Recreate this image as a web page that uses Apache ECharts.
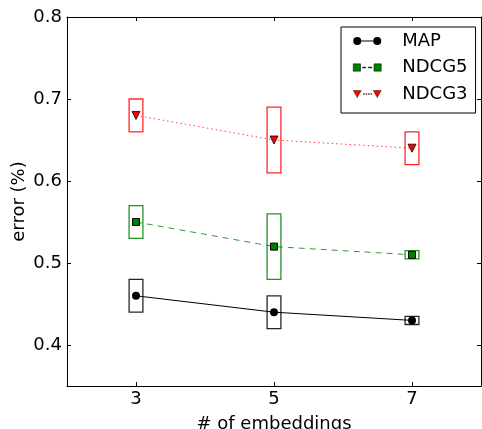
<!DOCTYPE html>
<html><head><meta charset="utf-8">
<script src="https://cdn.jsdelivr.net/npm/echarts@6/dist/echarts.min.js"></script>
<style>html,body{margin:0;padding:0;background:#fff}#c{width:482px;height:429px}</style>
</head><body><div id="c"></div>
<script>
const embeddings = [3, 5, 7];
const xTicks = [3, 5, 7];
const yTicks = [0.4, 0.5, 0.6, 0.7, 0.8];
const mapVal = [0.46, 0.44, 0.43];
const mapLo  = [0.44, 0.42, 0.425];
const mapHi  = [0.48, 0.46, 0.435];
const ndcg5Val = [0.55, 0.52, 0.51];
const ndcg5Lo  = [0.53, 0.48, 0.505];
const ndcg5Hi  = [0.57, 0.56, 0.515];
const ndcg3Val = [0.68, 0.65, 0.64];
const ndcg3Lo  = [0.66, 0.61, 0.62];
const ndcg3Hi  = [0.70, 0.69, 0.66];

const font = 'DejaVu Sans';
const fs = 18;
const chart = echarts.init(document.getElementById('c'), null, {renderer: 'canvas'});

function boxSeries(name, lo, hi, color) {
  return {
    name: name, type: 'custom', z: 1,
    data: embeddings.map((x, i) => [x, lo[i], hi[i]]),
    renderItem: function (params, api) {
      const x = api.value(0);
      const p1 = api.coord([x, api.value(2)]);
      const p2 = api.coord([x, api.value(1)]);
      const w = api.size([0.2, 0])[0];
      return {type: 'rect', shape: {x: p1[0] - w / 2, y: p1[1], width: w, height: p2[1] - p1[1]},
        style: {fill: 'none', stroke: color, lineWidth: 1.3, opacity: 0.85}};
    }
  };
}
const axisCommon = {
  type: 'value', min: 2, max: 8,
  axisLine: {show: true, lineStyle: {color: '#000', width: 1}},
  splitLine: {show: false}
};
const iconMap = 'path://M0,4 a4,4 0 1,0 8,0 a4,4 0 1,0 -8,0 Z M8,3.5 L20,3.5 L20,4.5 L8,4.5 Z M20,4 a4,4 0 1,0 8,0 a4,4 0 1,0 -8,0 Z';
const iconN5 = 'path://M0.5,0.5 L7.5,0.5 L7.5,7.5 L0.5,7.5 Z M9.5,3.6 L12.5,3.6 L12.5,4.4 L9.5,4.4 Z M15,3.6 L18.5,3.6 L18.5,4.4 L15,4.4 Z M20.5,0.5 L27.5,0.5 L27.5,7.5 L20.5,7.5 Z';
const iconN3 = 'path://M0,0.5 L8,0.5 L4,7.5 Z M10,3.6 L11,3.6 L11,4.4 L10,4.4 Z M12.5,3.6 L13.5,3.6 L13.5,4.4 L12.5,4.4 Z M15,3.6 L16,3.6 L16,4.4 L15,4.4 Z M17.5,3.6 L18.5,3.6 L18.5,4.4 L17.5,4.4 Z M20,0.5 L28,0.5 L24,7.5 Z';

chart.setOption({
  animation: false,
  backgroundColor: '#fff',
  textStyle: {fontFamily: font},
  grid: {left: 67, right: 1, top: 17, bottom: 43, containLabel: false, outerBoundsMode: 'none'},
  xAxis: [
    Object.assign({}, axisCommon, {
      position: 'bottom',
      name: '# of embeddings', nameLocation: 'middle', nameGap: 29, nameMoveOverlap: false,
      nameTextStyle: {fontSize: fs, color: '#000', fontFamily: font},
      axisTick: {show: true, inside: true, length: 4, customValues: xTicks, lineStyle: {color: '#000'}},
      axisLabel: {show: true, customValues: xTicks, fontSize: fs, color: '#000', margin: 4, fontFamily: font}
    }),
    Object.assign({}, axisCommon, {
      position: 'top',
      axisTick: {show: true, inside: true, length: 4, customValues: xTicks, lineStyle: {color: '#000'}},
      axisLabel: {show: false}
    })
  ],
  yAxis: [
    {
      type: 'value', min: 0.35, max: 0.8, position: 'left',
      axisLine: {show: true, lineStyle: {color: '#000', width: 1}},
      splitLine: {show: false},
      name: 'error (%)', nameLocation: 'middle', nameGap: 39, nameRotate: 90, nameMoveOverlap: false,
      nameTextStyle: {fontSize: fs, color: '#000', fontFamily: font},
      axisTick: {show: true, inside: true, length: 4, customValues: yTicks, lineStyle: {color: '#000'}},
      axisLabel: {show: true, customValues: yTicks, fontSize: fs, color: '#000', margin: 5, fontFamily: font,
        formatter: v => v.toFixed(1)}
    },
    {
      type: 'value', min: 0.35, max: 0.8, position: 'right',
      axisLine: {show: true, lineStyle: {color: '#000', width: 1}},
      splitLine: {show: false},
      axisTick: {show: true, inside: true, length: 4, customValues: yTicks, lineStyle: {color: '#000'}},
      axisLabel: {show: false}
    }
  ],
  legend: {
    orient: 'vertical', left: 341, top: 27,
    padding: [4, 8, 9, 12],
    itemWidth: 28, itemHeight: 8, itemGap: 6.5,
    borderColor: '#000', borderWidth: 1, borderRadius: 0, backgroundColor: '#fff',
    textStyle: {fontSize: fs, color: '#000', fontFamily: font, lineHeight: 20, padding: [0, 0, 0, 16]},
    data: [
      {name: 'MAP', icon: iconMap},
      {name: 'NDCG5', icon: iconN5, itemStyle: {borderColor: '#000', borderWidth: 0.5}},
      {name: 'NDCG3', icon: iconN3, itemStyle: {borderColor: '#000', borderWidth: 0.4}}
    ]
  },
  series: [
    boxSeries('MAP range', mapLo, mapHi, '#000000'),
    boxSeries('NDCG5 range', ndcg5Lo, ndcg5Hi, '#008000'),
    boxSeries('NDCG3 range', ndcg3Lo, ndcg3Hi, '#ff0000'),
    {
      name: 'MAP', type: 'line', z: 3,
      data: embeddings.map((x, i) => [x, mapVal[i]]),
      symbol: 'circle', symbolSize: 8,
      itemStyle: {color: '#000'},
      lineStyle: {color: '#000', width: 1}
    },
    {
      name: 'NDCG5', type: 'line', z: 3,
      data: embeddings.map((x, i) => [x, ndcg5Val[i]]),
      symbol: 'rect', symbolSize: 7,
      itemStyle: {color: '#008000', borderColor: '#000', borderWidth: 1},
      lineStyle: {color: '#008000', width: 1, type: [6, 5], opacity: 0.8}
    },
    {
      name: 'NDCG3', type: 'line', z: 3,
      data: embeddings.map((x, i) => [x, ndcg3Val[i]]),
      symbol: 'triangle', symbolRotate: 180, symbolSize: 8,
      itemStyle: {color: '#ff0000', borderColor: '#000', borderWidth: 0.8},
      lineStyle: {color: '#ff0000', width: 1, type: [1.5, 3], opacity: 0.75}
    }
  ]
});
</script></body></html>
